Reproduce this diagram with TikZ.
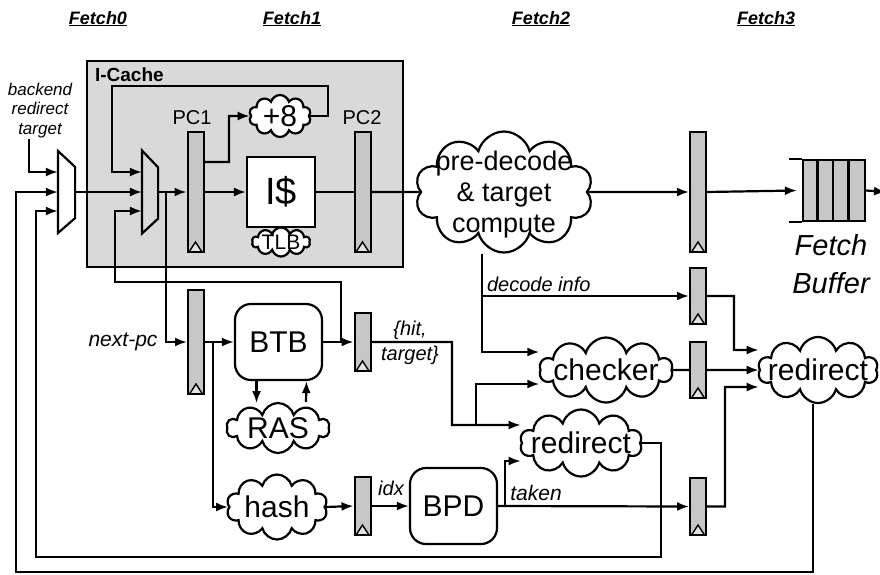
\documentclass[tikz,border=0pt]{standalone}
\usepackage{fontspec}
\setmainfont{Liberation Sans}
\usetikzlibrary{arrows.meta,shapes.symbols}
\definecolor{regfill}{gray}{0.78}
\definecolor{cachefill}{gray}{0.85}
\newcommand{\cltxt}[1]{\makebox[0pt]{\raisebox{-0.36em}[0pt][0pt]{#1}}}
\newcommand{\fsz}[1]{\fontsize{#1}{#1}\selectfont}
\tikzset{blk/.tip={Latex[length=12pt,width=9pt]}}

\begin{document}
\begin{tikzpicture}[x=1pt,y=-1pt,line width=2.2pt,
  reg/.style={draw,fill=regfill,line width=2pt,minimum width=16pt,minimum height=#1,inner sep=0pt,
    path picture={\draw[line width=1.4pt,fill=regfill!50!white] ([xshift=1.5pt]path picture bounding box.south west) -- ([yshift=10pt]path picture bounding box.south) -- ([xshift=-1.5pt]path picture bounding box.south east);}},
  blob/.style={cloud,cloud puffs=10,cloud ignores aspect,draw,fill=white,inner sep=1pt,font=\fsz{30}},
  tbl/.style={draw,fill=white,rounded corners=16pt,minimum width=87pt,minimum height=76pt,font=\fsz{30}},
  lab/.style={font=\fsz{21}\itshape,inner sep=0pt},
  stage/.style={font=\fsz{18}\bfseries\itshape,inner sep=0pt}]
\useasboundingbox (0,0) rectangle (880,574);

\node[stage,anchor=base] (s0) at (98,24) {\underline{Fetch0}};
\node[stage,anchor=base] (s1) at (292,24) {\underline{Fetch1}};
\node[stage,anchor=base] (s2) at (541,24) {\underline{Fetch2}};
\node[stage,anchor=base] (s3) at (766,24) {\underline{Fetch3}};

\node[draw,fill=cachefill,minimum width=316pt,minimum height=206pt,anchor=north west,inner sep=0pt] (ic) at (86,60) {};
\node[anchor=base west,font=\fsz{19}\bfseries,inner sep=0pt] (icl) at (94,81) {I-Cache};
\node[anchor=north,align=center,font=\fontsize{17}{19.5}\selectfont\itshape,inner sep=0pt] (bk) at (40,82) {backend\\redirect\\target};

% muxes
\node[minimum width=15pt,minimum height=80pt,inner sep=0pt] (m0) at (66.5,192) {};
\draw[fill=white] (m0.north west) -- ([yshift=-16pt]m0.north east) -- ([yshift=15pt]m0.south east) -- (m0.south west) -- cycle;
\node[minimum width=14pt,minimum height=81pt,inner sep=0pt] (m1) at (150,192) {};
\draw[fill=cachefill] (m1.north west) -- ([yshift=-17pt]m1.north east) -- ([yshift=15pt]m1.south east) -- (m1.south west) -- cycle;

% pipeline registers
\node[reg=120pt] (rpc1) at (195.5,192) {};
\node[font=\fsz{20},anchor=base,inner sep=0pt] (pc1) at (192,124) {PC1};
\node[reg=120pt] (rpc2) at (362.5,192) {};
\node[font=\fsz{20},anchor=base,inner sep=0pt] (pc2) at (362,124) {PC2};
\node[reg=120pt] (rf3) at (698,192) {};
\node[reg=104pt] (rnpc) at (196,342) {};
\node[reg=58pt] (rbt) at (362.5,342) {};
\node[reg=58pt] (ridx) at (362.5,506) {};
\node[reg=56pt] (rdec) at (698,296) {};
\node[reg=56pt] (rchk) at (698,370) {};
\node[reg=57pt] (rtkn) at (698,506.5) {};

% logic
\node[draw,fill=white,minimum width=68pt,minimum height=70pt,inner sep=0pt,font=\fsz{38}] (icd) at (281,192) {I\$};
\node[blob,minimum width=62pt,minimum height=42pt] (p8) at (280,116) {\cltxt{+8}};
\node[blob,minimum width=58pt,minimum height=29pt,font=\fsz{21}] (tlb) at (281,242) {\cltxt{TLB}};
\node[blob,minimum width=178pt,minimum height=121pt,font=\fontsize{27}{31}\selectfont] (pre) at (504,192) {\cltxt{\begin{tabular}{@{}c@{}}pre-decode\\\& target\\compute\end{tabular}}};
\node[tbl] (btb) at (278.5,342) {BTB};
\node[blob,minimum width=103pt,minimum height=50pt] (ras) at (278,428) {\cltxt{RAS}};
\node[blob,minimum width=101pt,minimum height=65pt] (hash) at (277,507) {\cltxt{hash}};
\node[tbl] (bpd) at (453.5,506) {BPD};
\node[blob,minimum width=133pt,minimum height=65pt] (chk) at (606,370) {\cltxt{checker}};
\node[blob,minimum width=122pt,minimum height=67pt] (rd2) at (581,443) {\cltxt{redirect}};
\node[blob,minimum width=120pt,minimum height=66pt] (rd3) at (818,370) {\cltxt{redirect}};

% fetch buffer
\node[draw,fill=regfill,minimum width=62pt,minimum height=61pt,inner sep=0pt] (fb) at (834,190.5) {};
\foreach \i in {1,2,3}
  \draw ([xshift=\i*15.5pt]fb.north west) -- ([xshift=\i*15.5pt]fb.south west);
\draw (fb.north west) -- ++(-13,0);
\draw (fb.south west) -- ++(-13,0);
\node[font=\fontsize{29}{38}\selectfont\itshape,align=center,inner sep=0pt] (fbl) at (831,264) {Fetch\\Buffer};

% labels
\node[lab,anchor=base] (npc) at (123,346) {next-pc};
\node[lab,anchor=base,font=\fsz{20}\itshape] (ht1) at (410,335) {\{hit,};
\node[lab,anchor=base,font=\fsz{20}\itshape] (ht2) at (410,360) {target\}};
\node[lab,anchor=base,font=\fsz{20}\itshape] (idx) at (391,495) {idx};
\node[lab,anchor=base] (tkn) at (536,500) {taken};
\node[lab,anchor=base west,font=\fsz{20}\itshape] (dinf) at (486,291) {decode info};

\coordinate (jb) at (341,342);
\coordinate (fbout) at (886,192);

% wires
\draw[-blk] ([xshift=-11pt]bk.south) |- ([yshift=20pt]m0.west);
\draw[-blk] ([xshift=-5pt]rd3.south) |- (16,572) |- (m0.west);
\draw[-blk] (rd2.east) -| (661,557) -| (36,211) -- ([yshift=-19pt]m0.west);
\draw[-blk] (m0.east) -- (m1.west);
\draw[-blk] (p8.east) -| (328,86) -| (112,172) -- ([yshift=20pt]m1.west);
\draw[-blk] (jb) |- (115,282) |- ([yshift=-19pt]m1.west);
\draw[-blk] (m1.east) -- (rpc1.west);
\draw[-blk] ([xshift=8pt]m1.east) |- (rnpc.west);
\draw[-blk] (rpc1.east) -- (icd.west);
\draw[-blk] ([yshift=30pt]rpc1.east) -| (229,116) -- (p8.west);
\draw (icd.east) -- (rpc2.west);
\draw (rpc2.east) -- (pre.west);
\draw[-blk] (pre.east) -- (rf3.west);
\draw[-blk] (rf3.east) -- ([xshift=-5pt]fb.west);
\draw[-blk] (fb.east) -- (fbout);
\draw[-blk] ([xshift=-22pt]pre.south) |- (rdec.west);
\draw[-blk] ([xshift=-22pt]pre.south) |- ([yshift=18pt]chk.west);
\draw[-blk] (rdec.east) -| (734,350) -- ([yshift=20pt]rd3.west);
\draw (chk.east) -- (rchk.west);
\draw[-blk] (rchk.east) -- (rd3.west);
\draw[-blk] (rtkn.east) -| (725,387) -- ([yshift=-17pt]rd3.west);
\draw[-blk] (rbt.east) -| (452,425) -- ([yshift=18pt]rd2.west);
\draw[-blk] (476,425) |- ([yshift=-14pt]chk.west);
\draw[-blk] (bpd.east) -- (rtkn.west);
\draw[-blk] (505,506) |- ([yshift=-18pt]rd2.west);
\draw[-blk] (rnpc.east) -- (btb.west);
\draw[-blk] ([xshift=8pt]rnpc.east) |- (hash.west);
\draw[-blk] (hash.east) -- (ridx.west);
\draw[-blk] (ridx.east) -- (bpd.west);
\draw[-blk] ([xshift=-22pt]btb.south) -- ++(0,22);
\draw[-blk] ([xshift=28pt]ras.north) -- ([xshift=28pt]btb.south);
\draw[-blk] (btb.east) -- (rbt.west);
\end{tikzpicture}
\end{document}
